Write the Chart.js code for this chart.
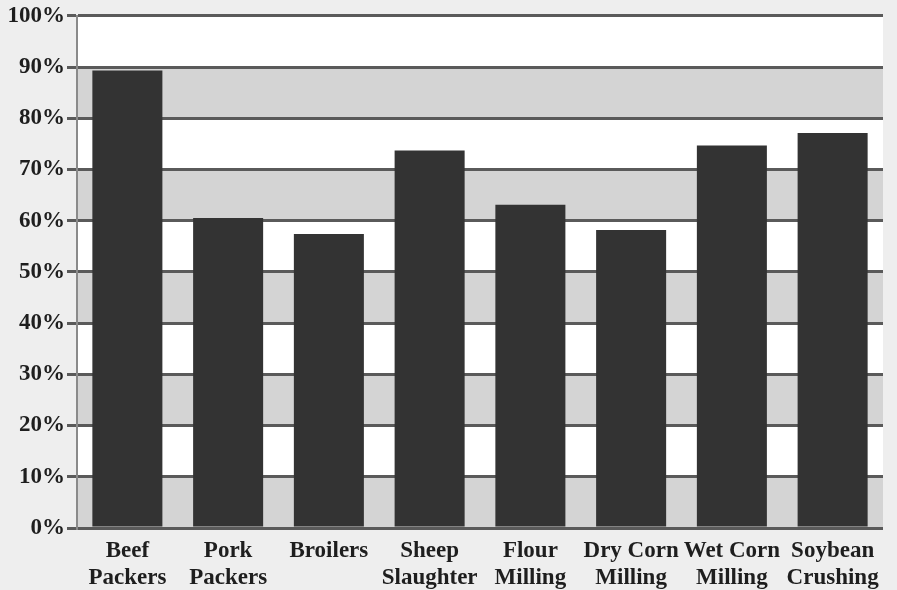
<!DOCTYPE html>
<html>
<head>
<meta charset="utf-8">
<script src="https://cdn.jsdelivr.net/npm/chart.js@4"></script>
<style>
  html, body { margin: 0; padding: 0; background: #eeeeee; }
  #wrap { width: 897px; height: 590px; }
</style>
</head>
<body>
<div id="wrap"><canvas id="bars" width="897" height="590"></canvas></div>
<script>
// categories + values
var industries = [
  ["Beef", "Packers"],
  ["Pork", "Packers"],
  ["Broilers"],
  ["Sheep", "Slaughter"],
  ["Flour", "Milling"],
  ["Dry Corn", "Milling"],
  ["Wet Corn", "Milling"],
  ["Soybean", "Crushing"]
];
var shares = [89.3, 60.5, 57.4, 73.7, 63.1, 58.2, 74.7, 77.1];
var yTicks = [0, 10, 20, 30, 40, 50, 60, 70, 80, 90, 100];

var serif = "'Liberation Serif', 'DejaVu Serif', serif";

// paper colour + alternating grey/white bands behind the bars
var bands = {
  id: "bands",
  beforeDraw: function(chart) {
    var ctx = chart.ctx, area = chart.chartArea, y = chart.scales.y;
    ctx.save();
    ctx.fillStyle = "#eeeeee";
    ctx.fillRect(0, 0, chart.width, chart.height);
    for (var i = 0; i < yTicks.length - 1; i++) {
      var top = y.getPixelForValue(yTicks[i + 1]);
      var bot = y.getPixelForValue(yTicks[i]);
      ctx.fillStyle = (i % 2 === 0) ? "#d4d4d4" : "#ffffff";
      ctx.fillRect(area.left, top, area.right - area.left, bot - top);
    }
    ctx.restore();
  }
};

new Chart(document.getElementById("bars"), {
  type: "bar",
  data: {
    labels: industries,
    datasets: [{
      data: shares,
      backgroundColor: "#333333",
      borderWidth: 0,
      barPercentage: 0.695,
      categoryPercentage: 1
    }]
  },
  options: {
    responsive: false,
    animation: false,
    layout: { padding: { top: 15, right: 14, left: 0, bottom: 0 } },
    plugins: { legend: { display: false }, tooltip: { enabled: false }, title: { display: false } },
    scales: {
      x: {
        grid: { display: false },
        border: { display: false },
        ticks: {
          color: "#1e1e1e",
          padding: 2,
          maxRotation: 0,
          autoSkip: false,
          font: { family: serif, size: 23, weight: "bold", lineHeight: 1.17 }
        },
        afterFit: function(s) { s.height = 62; }
      },
      y: {
        min: 0,
        max: 100,
        afterBuildTicks: function(s) { s.ticks = yTicks.map(function(v) { return { value: v }; }); },
        grid: { color: "#5a5a5a", lineWidth: 3, tickLength: 10 },
        border: { display: true, color: "#8a8a8a", width: 2 },
        ticks: {
          color: "#1e1e1e",
          padding: 2,
          font: { family: serif, size: 23, weight: "bold" },
          callback: function(v) { return v + "%"; }
        },
        afterFit: function(s) { s.width = 77; }
      }
    }
  },
  plugins: [bands]
});
</script>
</body>
</html>
